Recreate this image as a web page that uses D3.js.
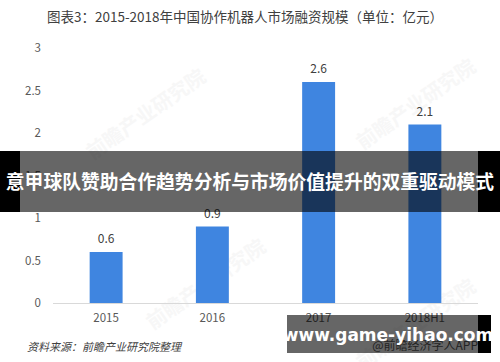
<!DOCTYPE html>
<html>
<head>
<meta charset="utf-8">
<script src="https://cdnjs.cloudflare.com/ajax/libs/d3/7.8.5/d3.min.js"></script>
<style>
  body { margin: 0; background: #fff; }
  svg { display: block; font-family: "Noto Sans CJK SC", "Noto Sans", sans-serif; }
</style>
</head>
<body>
<div id="vis"></div>
<script>
// data
var years = ['2015', '2016', '2017', '2018H1'];
var values = [0.6, 0.9, 2.6, 2.1];
var yTicks = [0, 0.5, 1, 1.5, 2, 2.5, 3];

var width = 500, height = 362;

var svg = d3.select('#vis').append('svg')
    .attr('width', width)
    .attr('height', height);

svg.append('rect').attr('width', width).attr('height', height).attr('fill', '#fff');

// title
svg.append('text')
    .attr('x', 245).attr('y', 22)
    .attr('text-anchor', 'middle')
    .attr('font-size', 13.5)
    .attr('fill', '#404040')
    .text('图表3：2015-2018年中国协作机器人市场融资规模（单位：亿元）');

var x = d3.scaleBand().domain(years).range([53, 478]).paddingInner(0.69).paddingOuter(0.345);
var y = d3.scaleLinear().domain([0, 3]).range([303, 48]);

// faint watermarks
[[150, 120], [420, 110], [210, 290], [420, 330]].forEach(function(p) {
  svg.append('text')
      .attr('transform', 'translate(' + p[0] + ',' + p[1] + ') rotate(-35)')
      .attr('text-anchor', 'middle')
      .attr('font-size', 20)
      .attr('font-weight', 'bold')
      .attr('fill', '#f7f7f7')
      .text('前瞻产业研究院');
});

// y tick labels
svg.append('g').selectAll('text')
    .data(yTicks)
  .enter().append('text')
    .attr('x', 41)
    .attr('y', function(d) { return y(d); })
    .attr('dy', '0.35em')
    .attr('text-anchor', 'end')
    .attr('font-size', 11.5)
    .attr('fill', '#595959')
    .text(function(d) { return d; });

// baseline
svg.append('line')
    .attr('x1', 53).attr('x2', 478)
    .attr('y1', y(0) + 0.5).attr('y2', y(0) + 0.5)
    .attr('stroke', '#d9d9d9');

// bars
svg.append('g').selectAll('rect')
    .data(values)
  .enter().append('rect')
    .attr('x', function(d, i) { return x(years[i]); })
    .attr('y', function(d) { return y(d); })
    .attr('width', x.bandwidth())
    .attr('height', function(d) { return y(0) - y(d); })
    .attr('fill', '#3f85e0');

// value labels
svg.append('g').selectAll('text')
    .data(values)
  .enter().append('text')
    .attr('x', function(d, i) { return x(years[i]) + x.bandwidth() / 2; })
    .attr('y', function(d) { return y(d) - 13; })
    .attr('dy', '0.35em')
    .attr('text-anchor', 'middle')
    .attr('font-size', 12)
    .attr('fill', '#404040')
    .text(function(d) { return d; });

// x labels
svg.append('g').selectAll('text')
    .data(years)
  .enter().append('text')
    .attr('x', function(d) { return x(d) + x.bandwidth() / 2; })
    .attr('y', 318)
    .attr('dy', '0.35em')
    .attr('text-anchor', 'middle')
    .attr('font-size', 11.5)
    .attr('fill', '#595959')
    .text(function(d) { return d; });

// source
svg.append('text')
    .attr('x', 27).attr('y', 351)
    .attr('font-size', 11)
    .attr('font-style', 'italic')
    .attr('fill', '#404040')
    .text('资料来源：前瞻产业研究院整理');

svg.append('text')
    .attr('x', 478).attr('y', 350)
    .attr('text-anchor', 'end')
    .attr('font-size', 12)
    .attr('fill', '#595959')
    .text('@前瞻经济学人APP');

// banner overlay
svg.append('rect').attr('x', 0).attr('y', 151).attr('width', 20).attr('height', 61).attr('fill', '#000');
svg.append('rect').attr('x', 478).attr('y', 151).attr('width', 22).attr('height', 61).attr('fill', '#000');
svg.append('rect').attr('x', 20).attr('y', 151).attr('width', 458).attr('height', 61).attr('fill', 'rgba(0,0,0,0.6)');
svg.append('text')
    .attr('x', 250).attr('y', 182)
    .attr('dy', '0.35em')
    .attr('text-anchor', 'middle')
    .attr('font-size', 18.8)
    .attr('font-weight', 'bold')
    .attr('fill', '#fff')
    .text('意甲球队赞助合作趋势分析与市场价值提升的双重驱动模式');

// url box
svg.append('rect').attr('x', 287).attr('y', 315).attr('width', 191).attr('height', 38).attr('fill', 'rgba(0,0,0,0.6)');
svg.append('rect').attr('x', 478).attr('y', 315).attr('width', 13).attr('height', 38).attr('fill', '#000');
svg.append('text')
    .attr('x', 388).attr('y', 335)
    .attr('dy', '0.35em')
    .attr('text-anchor', 'middle')
    .attr('font-size', 17)
    .attr('font-weight', 'bold')
    .attr('font-family', '"DejaVu Sans", sans-serif')
    .attr('fill', '#fff')
    .text('www.game-yihao.com');
</script>
</body>
</html>
